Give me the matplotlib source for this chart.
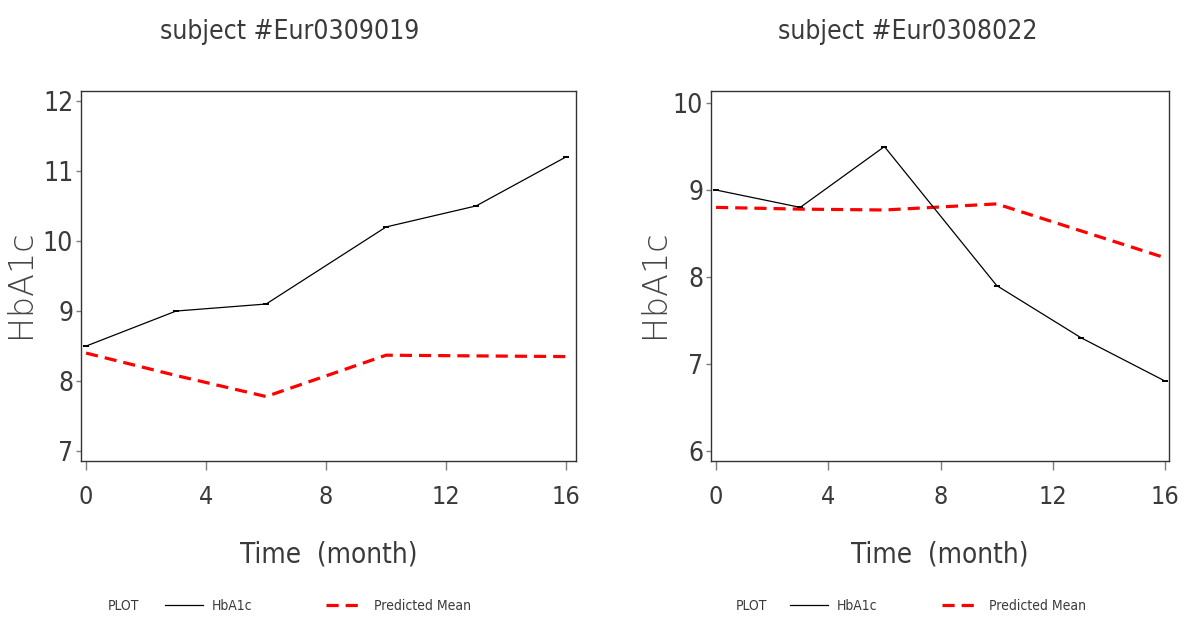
import matplotlib
matplotlib.use("Agg")
import matplotlib.pyplot as plt
from matplotlib.lines import Line2D

# Visit times (months) and HbA1c values for two subjects
months = [0, 3, 6, 10, 13, 16]

subject_a = "subject #Eur0309019"
hba1c_a = [8.5, 9.0, 9.1, 10.2, 10.5, 11.2]
pred_a = [8.40, 8.08, 7.78, 8.37, 8.36, 8.35]

subject_b = "subject #Eur0308022"
hba1c_b = [9.0, 8.8, 9.5, 7.9, 7.3, 6.8]
pred_b = [8.80, 8.78, 8.77, 8.84, 8.53, 8.22]

xticks = [0, 4, 8, 12, 16]
yticks_a = [7, 8, 9, 10, 11, 12]
yticks_b = [6, 7, 8, 9, 10]

FONT = dict(family="DejaVu Sans", stretch="condensed", weight="light")
TXT = "#3a3a3a"
TICKC = "#7f7f7f"
SPINEC = "#333333"

W, H = 1183, 619
fig = plt.figure(figsize=(W / 100, H / 100), dpi=100)


def px_rect(left, right, top, bottom):
    return [left / W, 1 - bottom / H, (right - left) / W, (bottom - top) / H]


panels = [
    dict(rect=px_rect(81, 576, 91, 461), xlim=(-0.17, 16.33), ylim=(6.86, 12.14),
         yticks=yticks_a, obs=hba1c_a, pred=pred_a, title=subject_a, title_x=290,
         leg_x=108, leg_gap=57, colsp=5.3),
    dict(rect=px_rect(711, 1169, 91, 461), xlim=(-0.18, 16.14), ylim=(5.88, 10.14),
         yticks=yticks_b, obs=hba1c_b, pred=pred_b, title=subject_b, title_x=908,
         leg_x=736, leg_gap=54, colsp=4.6),
]

for p in panels:
    ax = fig.add_axes(p["rect"])
    ax.plot(months, p["obs"], color="black", lw=0.9,
            marker="_", ms=4, mew=1.4, zorder=3)
    ax.plot(months, p["pred"], color="#ff0000", lw=2.3,
            linestyle=(0, (3.8, 2.2)), zorder=2)
    ax.set_xlim(*p["xlim"])
    ax.set_ylim(*p["ylim"])
    ax.set_xticks(xticks)
    ax.set_yticks(p["yticks"])
    ax.set_xticklabels([str(v) for v in xticks], fontsize=18, color=TXT, **FONT)
    ax.set_yticklabels([str(v) for v in p["yticks"]], fontsize=19, color=TXT, **FONT)
    ax.tick_params(axis="x", direction="out", length=6.5, width=1, color=TICKC, pad=11)
    ax.tick_params(axis="y", direction="out", length=3.6, width=1, color=TICKC, pad=2)
    for s in ax.spines.values():
        s.set_color(SPINEC)
        s.set_linewidth(1)

    ax.set_xlabel("Time  (month)", fontsize=20, color=TXT, **FONT)
    ax.xaxis.set_label_coords(0.5, -0.254)
    ax.xaxis.label.set_va("center")
    ax.set_ylabel("HbA1c", fontsize=24, color="#444444", family="DejaVu Sans",
                  weight="light")
    ax.yaxis.set_label_coords(-0.123, 0.48)
    ax.yaxis.label.set_va("center")

    fig.text(p["title_x"] / W, 1 - 32 / H, p["title"], ha="center", va="center",
             fontsize=19, color=TXT, **FONT)

    # legend row below the panel
    ly = 1 - 606 / H
    fig.text(p["leg_x"] / W, ly, "PLOT", ha="left", va="center",
             fontsize=10, color=TXT, **FONT)
    handles = [Line2D([], [], color="black", lw=0.9),
               Line2D([], [], color="#ff0000", lw=2.3, linestyle=(0, (3.8, 2.2)))]
    fig.legend(handles, ["HbA1c", "Predicted Mean"], loc="center left",
               bbox_to_anchor=((p["leg_x"] + p["leg_gap"]) / W, ly), ncol=2,
               frameon=False, prop=dict(size=10, **FONT), labelcolor=TXT,
               handlelength=2.7, handletextpad=0.7, columnspacing=p["colsp"],
               borderpad=0, borderaxespad=0)

fig.savefig("out.png", dpi=100, facecolor="white")
